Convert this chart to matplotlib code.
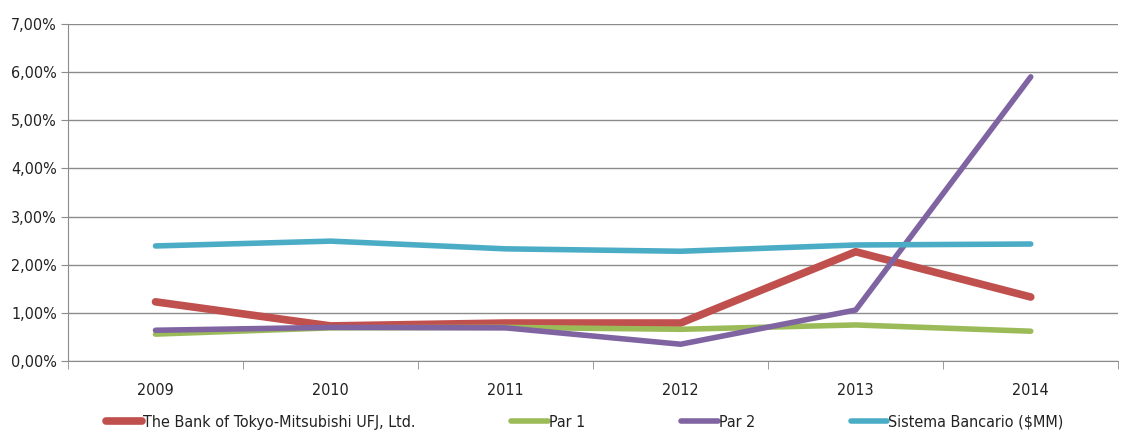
import matplotlib
matplotlib.use("Agg")
import matplotlib.pyplot as plt
from matplotlib import font_manager
from matplotlib.ticker import FuncFormatter, FixedLocator


def weight_num(w):
    if isinstance(w, int):
        return w
    return font_manager.weight_dict.get(str(w).lower(), 400)


def stretch_num(s):
    if isinstance(s, int):
        return s
    return font_manager.stretch_dict.get(str(s).lower(), 500)


# look for a regular-weight narrow sans face, else fall back to a bold condensed one
family, stretch, weight = 'DejaVu Sans', 'normal', 'normal'
best = None
for f in font_manager.fontManager.ttflist:
    st, wt = stretch_num(f.stretch), weight_num(f.weight)
    if st < 500 and 'Sans' in f.name and f.style == 'normal':
        score = abs(wt - 400)
        if best is None or score < best[0]:
            best = (score, f.name, f.stretch, f.weight)
if best is not None:
    _, family, stretch, weight = best
else:
    for cand in ['Liberation Sans Narrow', 'Open Sans Condensed', 'Roboto Condensed']:
        if cand in {f.name for f in font_manager.fontManager.ttflist}:
            family = cand
            break
plt.rcParams['font.family'] = [family, 'DejaVu Sans']
plt.rcParams['font.stretch'] = stretch
plt.rcParams['font.weight'] = weight

years = ['2009', '2010', '2011', '2012', '2013', '2014']
series_names = ['The Bank of Tokyo-Mitsubishi UFJ, Ltd.', 'Par 1', 'Par 2', 'Sistema Bancario ($MM)']
btmu = [1.23, 0.73, 0.79, 0.79, 2.27, 1.33]
par1 = [0.56, 0.69, 0.70, 0.66, 0.75, 0.62]
par2 = [0.64, 0.70, 0.69, 0.35, 1.06, 5.90]
sistema = [2.39, 2.49, 2.33, 2.28, 2.41, 2.43]

colors = ['#C0504D', '#9BBB59', '#8064A2', '#4BACC6']
widths = [5.5, 4, 4, 4]

fig = plt.figure(figsize=(11.33, 4.34), dpi=100)
ax = fig.add_axes([0.060, 0.168, 0.927, 0.777])

x = list(range(len(years)))
for vals, name, c, w in zip([btmu, par1, par2, sistema], series_names, colors, widths):
    ax.plot(x, vals, color=c, lw=w, label=name, solid_capstyle='round', solid_joinstyle='round')

ax.set_xlim(-0.5, len(years) - 0.5)
ax.set_ylim(0, 7)
ax.set_yticks([0, 1, 2, 3, 4, 5, 6, 7])
ax.yaxis.set_major_formatter(FuncFormatter(lambda v, p: f'{v:.2f}%'.replace('.', ',')))
ax.grid(axis='y', color='#8c8c8c', lw=1)
ax.set_axisbelow(True)

ax.set_xticks(x)
ax.set_xticklabels(years)
ax.tick_params(axis='x', length=0, pad=16, labelsize=11.5, colors='#222222')
ax.xaxis.set_minor_locator(FixedLocator([i - 0.5 for i in range(len(years) + 1)]))
ax.tick_params(axis='x', which='minor', length=6, color='#8c8c8c', direction='out')
ax.tick_params(axis='y', length=5, color='#8c8c8c', labelsize=11.5, colors='#222222', pad=3)

for s in ['top', 'right']:
    ax.spines[s].set_visible(False)
for s in ['left', 'bottom']:
    ax.spines[s].set_color('#8c8c8c')

leg = fig.legend(loc='center', bbox_to_anchor=(0.516, 0.027), ncol=4, frameon=False,
                 fontsize=11.5, handlelength=2.3, handletextpad=0.05, columnspacing=6.0,
                 borderpad=0.1)
for t in leg.get_texts():
    t.set_color('#222222')

fig.savefig('out.png', dpi=100)
